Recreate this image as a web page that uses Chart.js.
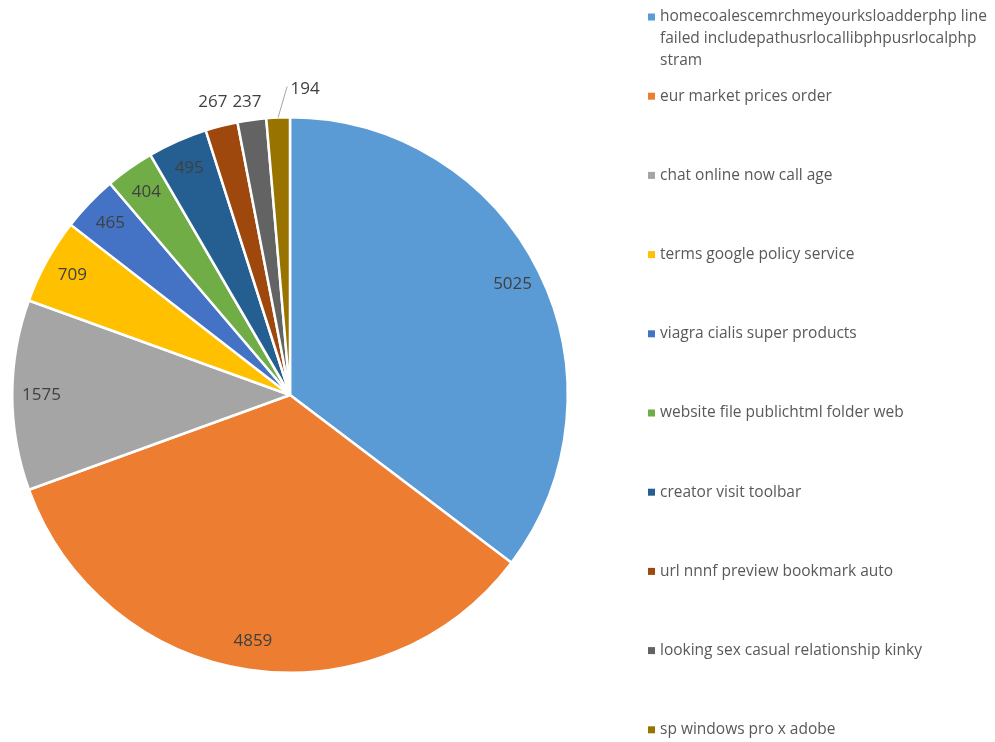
<!DOCTYPE html>
<html>
<head>
<meta charset="utf-8">
<script src="https://cdn.jsdelivr.net/npm/chart.js@4.4.0/dist/chart.umd.min.js"></script>
<style>
  html, body { margin: 0; padding: 0; background: #fff; }
  #wrap { width: 995px; height: 742px; }
</style>
</head>
<body>
<div id="wrap"><canvas id="pieChart" width="995" height="742"></canvas></div>
<script>
// --- data ---
const categories = [
  "homecoalescemrchmeyourksloadderphp line failed includepathusrlocallibphpusrlocalphp stram",
  "eur market prices order",
  "chat online now call age",
  "terms google policy service",
  "viagra cialis super products",
  "website file publichtml folder web",
  "creator visit toolbar",
  "url nnnf preview bookmark auto",
  "looking sex casual relationship kinky",
  "sp windows pro x adobe"
];
const counts = [5025, 4859, 1575, 709, 465, 404, 495, 267, 237, 194];
const sliceColors = [
  "#5B9BD5", "#ED7D31", "#A5A5A5", "#FFC000", "#4472C4",
  "#70AD47", "#255E91", "#9E480E", "#636363", "#997300"
];

const LABEL_FONT = "17px 'Open Sans', sans-serif";
const LEGEND_FONT = "15.5px 'Open Sans', sans-serif";

// --- value labels: inside for big slices, outside for the thin ones ---
const sliceLabels = {
  id: "sliceLabels",
  afterDatasetsDraw(chart) {
    const c = chart.ctx;
    const arcs = chart.getDatasetMeta(0).data;
    c.save();
    c.font = LABEL_FONT;
    c.fillStyle = "#404040";
    c.textAlign = "center";
    c.textBaseline = "middle";
    arcs.forEach((arc, i) => {
      const mid = (arc.startAngle + arc.endAngle) / 2;
      const r = arc.outerRadius;
      const cx = arc.x, cy = arc.y;
      if (i === counts.length - 1) {
        // last slice gets a leader line
        const ex = cx + Math.cos(mid) * r, ey = cy + Math.sin(mid) * r;
        c.strokeStyle = "#a6a6a6";
        c.lineWidth = 1;
        c.beginPath();
        c.moveTo(ex, ey);
        c.lineTo(ex + 9, ey - 31);
        c.stroke();
        c.fillText(String(counts[i]), ex + 27, ey - 28);
      } else if (counts[i] < 300) {
        // thin slices: label sits above the rim on a shared row
        const lr = r + 35;
        c.fillText(String(counts[i]), cx + Math.cos(mid) * lr, cy - r - 15);
      } else {
        const lr = r * 0.895;
        c.fillText(String(counts[i]), cx + Math.cos(mid) * lr, cy + Math.sin(mid) * lr);
      }
    });
    c.restore();
  }
};

// --- legend on the right, wrapped by width ---
function wrapText(c, text, maxW) {
  const words = text.split(" ");
  const lines = [];
  let line = "";
  words.forEach(w => {
    const test = line ? line + " " + w : w;
    if (c.measureText(test).width > maxW && line) {
      lines.push(line);
      line = w;
    } else {
      line = test;
    }
  });
  if (line) lines.push(line);
  return lines;
}

const sideLegend = {
  id: "sideLegend",
  afterDraw(chart) {
    const c = chart.ctx;
    c.save();
    c.font = LEGEND_FONT;
    c.textBaseline = "middle";
    c.textAlign = "left";
    categories.forEach((name, i) => {
      const y = 17 + i * 79.2;
      c.fillStyle = sliceColors[i];
      c.fillRect(648, y - 3.5, 7, 7);
      c.fillStyle = "#595959";
      const lines = wrapText(c, name, 333);
      lines.forEach((ln, k) => c.fillText(ln, 660, y + k * 22));
    });
    c.restore();
  }
};

const ctx = document.getElementById("pieChart").getContext("2d");
new Chart(ctx, {
  type: "pie",
  data: {
    labels: categories,
    datasets: [{
      data: counts,
      backgroundColor: sliceColors,
      borderColor: "#ffffff",
      borderWidth: 2.5
    }]
  },
  options: {
    responsive: false,
    animation: false,
    layout: { padding: { left: 11, right: 426, top: 116, bottom: 68 } },
    plugins: {
      legend: { display: false },
      tooltip: { enabled: false }
    }
  },
  plugins: [sliceLabels, sideLegend]
});
</script>
</body>
</html>
